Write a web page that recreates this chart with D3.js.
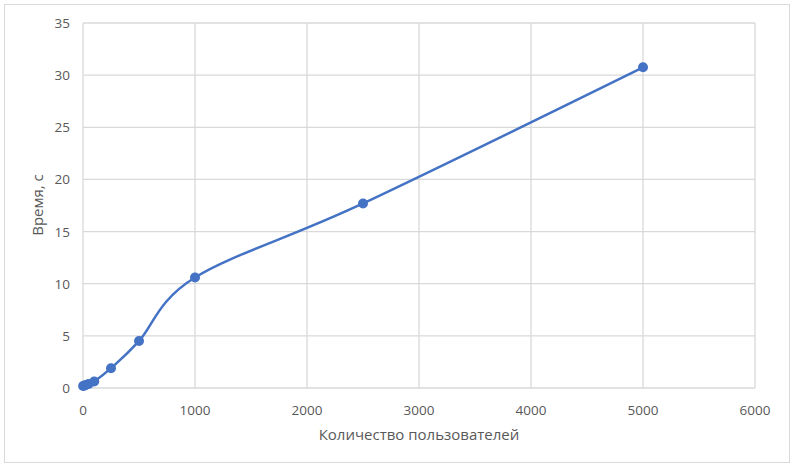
<!DOCTYPE html>
<html><head><meta charset="utf-8">
<script src="https://cdn.jsdelivr.net/npm/d3@7/dist/d3.min.js"></script>
<style>body{margin:0;background:#fff}text{font-family:"Open Sans","Noto Sans",sans-serif}</style>
</head><body><svg id="c" width="794" height="468"></svg>
<script>
const users = [1, 10, 25, 50, 100, 250, 500, 1000, 2500, 5000];
const times = [0.2, 0.22, 0.28, 0.38, 0.62, 1.9, 4.5, 10.6, 17.7, 30.75];
const xTicks = [0, 1000, 2000, 3000, 4000, 5000, 6000];
const yTicks = [0, 5, 10, 15, 20, 25, 30, 35];
const xTitle = "Количество пользователей";
const yTitle = "Время, с";

const svg = d3.select("#c");
svg.append("rect").attr("x",4.5).attr("y",4.5).attr("width",785).attr("height",458)
  .attr("fill","#fff").attr("stroke","#d9d9d9");
const x = d3.scaleLinear().domain([0,6000]).range([83,755]);
const y = d3.scaleLinear().domain([0,35]).range([388,23]);

const g = svg.append("g");
g.selectAll(".vg").data(xTicks).join("line").attr("x1",d=>x(d)).attr("x2",d=>x(d))
  .attr("y1",y(0)).attr("y2",y(35)).attr("stroke","#d9d9d9").attr("stroke-width",1.3);
g.selectAll(".hg").data(yTicks).join("line").attr("y1",d=>y(d)).attr("y2",d=>y(d))
  .attr("x1",x(0)).attr("x2",x(6000)).attr("stroke","#d9d9d9").attr("stroke-width",1.3);

g.selectAll(".xt").data(xTicks).join("text").attr("x",d=>x(d)).attr("y",y(0)+27)
  .attr("text-anchor","middle").attr("fill","#595959").attr("font-size",13.5).text(d=>d);
g.selectAll(".yt").data(yTicks).join("text").attr("x",70).attr("y",d=>y(d)+5)
  .attr("text-anchor","end").attr("fill","#595959").attr("font-size",13.5).text(d=>d);

svg.append("text").attr("x",419).attr("y",440).attr("text-anchor","middle")
  .attr("fill","#595959").attr("font-size",15).text(xTitle);
svg.append("text").attr("transform","translate(43,205) rotate(-90)").attr("text-anchor","middle")
  .attr("fill","#595959").attr("font-size",15).text(yTitle);

const data = users.map((u,i)=>[u,times[i]]);
const line = d3.line().x(d=>x(d[0])).y(d=>y(d[1])).curve(d3.curveCardinal.tension(0));
svg.append("path").datum(data).attr("d",line).attr("fill","none")
  .attr("stroke","#4472c4").attr("stroke-width",2.5).attr("stroke-linecap","round");
svg.selectAll(".pt").data(data).join("circle").attr("cx",d=>x(d[0])).attr("cy",d=>y(d[1]))
  .attr("r",5).attr("fill","#4472c4");
</script></body></html>
